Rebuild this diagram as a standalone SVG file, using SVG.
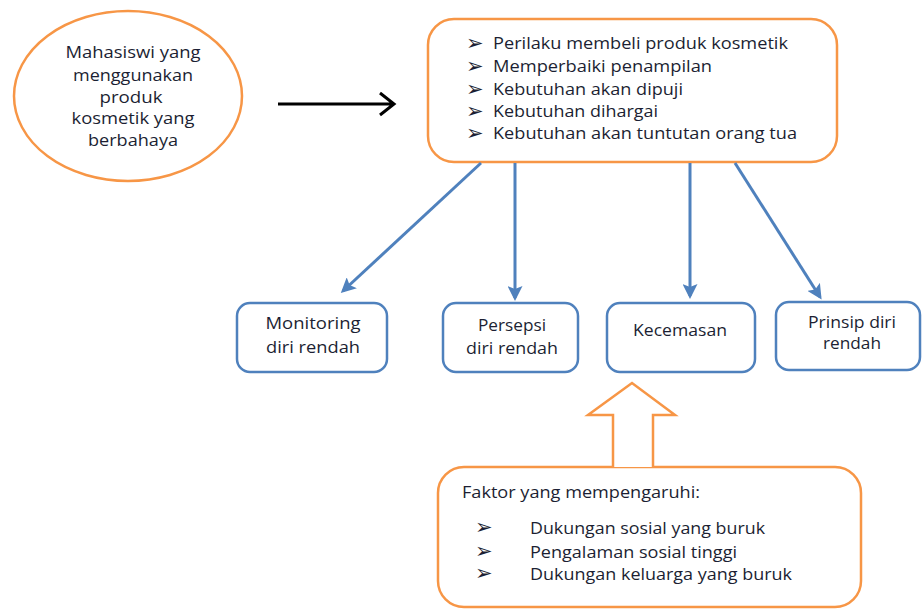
<svg xmlns="http://www.w3.org/2000/svg" width="922" height="609" viewBox="0 0 922 609">
<defs>
<style>
.t{font-family:"Open Sans","Liberation Sans",sans-serif;font-size:16.5px;fill:#1c1f33;}
.c{text-anchor:middle;}
.b{font-family:"DejaVu Sans",sans-serif;font-size:21px;fill:#1c1f33;}
.or{fill:#fff;stroke:#F79646;stroke-width:2.5;}
.bl{fill:#fff;stroke:#4F81BD;stroke-width:2.5;}
.ba{stroke:#4F81BD;stroke-width:3;fill:none;}
</style>
<marker id="bh" viewBox="0 0 10 10" refX="8" refY="5" markerWidth="5" markerHeight="5" orient="auto" markerUnits="strokeWidth">
<path d="M0,0 L10,5 L0,10 L2,5 Z" fill="#4F81BD"/>
</marker>
</defs>
<rect width="922" height="609" fill="#fff"/>
<g id="source">
<ellipse class="or" cx="128" cy="96" rx="114" ry="85"/>
<text class="t c" x="133" y="58" textLength="135" lengthAdjust="spacingAndGlyphs">Mahasiswi yang</text>
<text class="t c" x="133" y="81" textLength="120" lengthAdjust="spacingAndGlyphs">menggunakan</text>
<text class="t c" x="131" y="103" textLength="63" lengthAdjust="spacingAndGlyphs">produk</text>
<text class="t c" x="133" y="124" textLength="123" lengthAdjust="spacingAndGlyphs">kosmetik yang</text>
<text class="t c" x="133" y="146" textLength="90" lengthAdjust="spacingAndGlyphs">berbahaya</text>
</g>
<g id="behaviors">
<rect class="or" x="428" y="19" width="409" height="143" rx="26"/>
<text class="b" x="466" y="50">➢</text>
<text class="b" x="466" y="73">➢</text>
<text class="b" x="466" y="96">➢</text>
<text class="b" x="466" y="118">➢</text>
<text class="b" x="466" y="140">➢</text>
<text class="t" x="493" y="49" textLength="295" lengthAdjust="spacingAndGlyphs">Perilaku membeli produk kosmetik</text>
<text class="t" x="493" y="72" textLength="219" lengthAdjust="spacingAndGlyphs">Memperbaiki penampilan</text>
<text class="t" x="493" y="95" textLength="190" lengthAdjust="spacingAndGlyphs">Kebutuhan akan dipuji</text>
<text class="t" x="493" y="117" textLength="165" lengthAdjust="spacingAndGlyphs">Kebutuhan dihargai</text>
<text class="t" x="493" y="139" textLength="304" lengthAdjust="spacingAndGlyphs">Kebutuhan akan tuntutan orang tua</text>
</g>
<g id="monitoring">
<rect class="bl" x="237" y="303" width="150" height="69" rx="13"/>
<text class="t c" x="313" y="329" textLength="95" lengthAdjust="spacingAndGlyphs">Monitoring</text>
<text class="t c" x="313" y="353" textLength="94" lengthAdjust="spacingAndGlyphs">diri rendah</text>
</g>
<g id="persepsi">
<rect class="bl" x="443" y="303" width="135" height="69" rx="13"/>
<text class="t c" x="512" y="331" textLength="68" lengthAdjust="spacingAndGlyphs">Persepsi</text>
<text class="t c" x="512" y="354" textLength="92" lengthAdjust="spacingAndGlyphs">diri rendah</text>
</g>
<g id="kecemasan">
<rect class="bl" x="607" y="303" width="148" height="69" rx="13"/>
<text class="t c" x="680" y="336" textLength="94" lengthAdjust="spacingAndGlyphs">Kecemasan</text>
</g>
<g id="prinsip">
<rect class="bl" x="776" y="302" width="144" height="68" rx="13"/>
<text class="t c" x="852" y="328" textLength="88" lengthAdjust="spacingAndGlyphs">Prinsip diri</text>
<text class="t c" x="852" y="349" textLength="58" lengthAdjust="spacingAndGlyphs">rendah</text>
</g>
<g id="faktor">
<rect class="or" x="438" y="467" width="423" height="140" rx="26"/>
<text class="t" x="462" y="498" textLength="238" lengthAdjust="spacingAndGlyphs">Faktor yang mempengaruhi:</text>
<text class="b" x="475" y="534">➢</text>
<text class="b" x="475" y="558">➢</text>
<text class="b" x="475" y="580">➢</text>
<text class="t" x="530" y="534" textLength="235" lengthAdjust="spacingAndGlyphs">Dukungan sosial yang buruk</text>
<text class="t" x="530" y="558" textLength="207" lengthAdjust="spacingAndGlyphs">Pengalaman sosial tinggi</text>
<text class="t" x="530" y="580" textLength="262" lengthAdjust="spacingAndGlyphs">Dukungan keluarga yang buruk</text>
</g>
<g id="connectors">
<path d="M278,104 L393,104 M380,93 L394,104 L380,115" stroke="#000" stroke-width="3" fill="none"/>
<line class="ba" x1="481" y1="163" x2="343" y2="291" marker-end="url(#bh)"/>
<line class="ba" x1="515" y1="163" x2="515" y2="298" marker-end="url(#bh)"/>
<line class="ba" x1="690" y1="163" x2="690" y2="296" marker-end="url(#bh)"/>
<line class="ba" x1="735" y1="163" x2="820" y2="297" marker-end="url(#bh)"/>
<path d="M613,467 L613,415 L588,415 L632,383 L675,415 L653,415 L653,467" fill="#fff" stroke="#F79646" stroke-width="2.5"/>
</g>
</svg>
